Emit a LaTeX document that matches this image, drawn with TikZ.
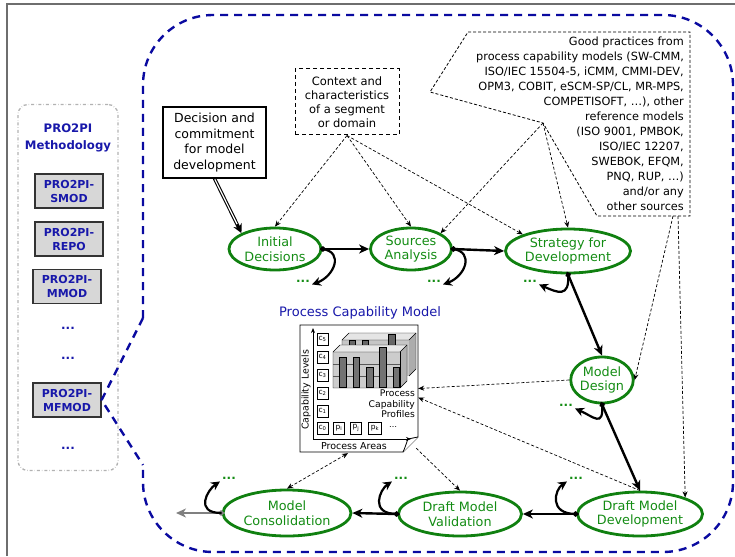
\documentclass[tikz,border=0pt]{standalone}
\usepackage{fontspec}
\setmainfont{DejaVu Sans}
\usetikzlibrary{shapes.geometric,arrows.meta}
\definecolor{ellgreen}{RGB}{16,128,16}
\definecolor{txtgreen}{RGB}{20,140,20}
\definecolor{navy}{RGB}{24,24,170}
\definecolor{regionblue}{RGB}{10,10,160}
\definecolor{boxgray}{RGB}{215,215,215}
\definecolor{framegray}{RGB}{110,110,110}
\begin{document}
\begin{tikzpicture}[x=1pt,y=-1pt,
  phasenode/.style={draw=ellgreen, line width=2.8pt, ellipse, inner sep=0pt, text=txtgreen, align=center, font=\fontsize{12.8}{14.5}\selectfont},
  flow/.style={line width=2.4pt, shorten <=-3pt, {Diamond[length=7pt,width=6pt]}-{Stealth[length=10pt,width=9pt,inset=3pt]}},
  curl/.style={line width=2.2pt, -{Stealth[length=9pt,width=9pt,inset=3pt]}},
  gdots/.style={text=txtgreen, font=\fontsize{12}{12}\bfseries, text height=2.5pt, text depth=0pt, inner sep=2pt},
  bdots/.style={text=navy, font=\fontsize{12}{12}\bfseries, text height=2.5pt, text depth=0pt, inner sep=2pt},
  infl/.style={line width=0.7pt, dash pattern=on 3pt off 2pt, -{Stealth[length=6pt,width=5pt]}},
  inflboth/.style={line width=0.7pt, dash pattern=on 3pt off 2pt, {Stealth[length=6pt,width=5pt]}-{Stealth[length=6pt,width=5pt]}},
  pbox/.style={draw=black!80, fill=boxgray, line width=1.2pt, minimum width=68pt, minimum height=34pt, text=navy, font=\fontsize{11}{14}\bfseries, align=center, inner sep=1pt},
  cbox/.style={draw, line width=0.6pt, minimum width=11pt, minimum height=12pt, inner sep=0pt, font=\fontsize{7.5}{7.5}\selectfont},
  region/.style={draw=regionblue, line width=2.4pt, dash pattern=on 8pt off 6pt}
]
\useasboundingbox (0,0) rectangle (735,556);
% frame
\draw[framegray, line width=1.8pt] (7,556) -- (7,4) -- (735,4);

% left panel
\node[draw=gray!60, dash dot, line width=1.3pt, rounded corners=10pt, minimum width=100pt, minimum height=366pt] (panel) at (68,287.5) {};
\node[text=navy, align=center, font=\fontsize{11.7}{17}\bfseries] (ptitle) at (68,138) {PRO2PI\\Methodology};
\node[pbox] (smod) at (69,191) {PRO2PI-\\SMOD};
\node[pbox] (repo) at (69,239) {PRO2PI-\\REPO};
\node[pbox] (mmod) at (67,286.5) {PRO2PI-\\MMOD};
\node[bdots] (bd1) at (68,328) {...};
\node[bdots] (bd2) at (68,358) {...};
\node[pbox] (mfmod) at (67,400) {PRO2PI-\\MFMOD};
\node[bdots] (bd3) at (68,448) {...};

% blue region
\draw[region] (143,318) [rounded corners=70pt] -- (143,15) -- (733,15) -- (733,552) -- (143,552) -- (143,465);
\draw[region] (143,318) -- (mfmod.east) -- (143,465);

% decision box
\node[draw, line width=1.2pt, minimum width=103pt, minimum height=71pt, align=center, font=\fontsize{12.5}{15.5}\selectfont] (dec) at (214.5,142.5) {Decision and\\commitment\\for model\\development};

% context box
\node[draw, line width=1pt, dash pattern=on 4pt off 3pt, minimum width=104pt, minimum height=66pt, align=center, font=\fontsize{11.5}{14}\selectfont] (ctx) at (347,102) {Context and\\characteristics\\of a segment\\or domain};

% good practices
\coordinate (gpn) at (543,123);
\coordinate (gpb1) at (673,216);
\coordinate (gpb2) at (678,216);
\draw[line width=0.8pt, dash pattern=on 3pt off 2pt] (468,32) -- (690,32) -- (690,216) -- (597,216) -- (gpn) -- (430,92) -- cycle;
\node[align=right, anchor=north east, font=\fontsize{11.3}{15}\selectfont, inner sep=0pt] (gp) at (684,37) {Good practices from\\process capability models (SW-CMM,\\ISO/IEC 15504-5, iCMM, CMMI-DEV,\\OPM3, COBIT, eSCM-SP/CL, MR-MPS,\\COMPETISOFT, …), other\\reference models\\(ISO 9001, PMBOK,\\ISO/IEC 12207,\\SWEBOK, EFQM,\\PNQ, RUP, …)\\and/or any\\other sources};

% process capability model figure
\node[text=navy, font=\fontsize{13}{13}\selectfont] (pcmtitle) at (360,313) {Process Capability Model};
\node[minimum width=118pt, minimum height=127pt, inner sep=0pt] (pcm) at (359,388.5) {};
\draw[line width=0.9pt, fill=white] (300,325) -- (418,325) -- (418,437) -- (403,452) -- (300,452) -- cycle;
\draw[line width=0.8pt, fill=white] (418,437) -- (408,439) .. controls (406,444) and (405,448) .. (403,452);
% back chart
\fill[gray!45] (342,340) rectangle (409,376);
\fill[gray!20] (342,340) -- (349,333) -- (416,333) -- (409,340) -- cycle;
\fill[gray!65] (409,340) -- (416,333) -- (416,369) -- (409,376) -- cycle;
\draw[line width=0.4pt] (342,376) -- (342,340) -- (349,333) -- (416,333) -- (416,369) -- (409,376);
\draw[line width=0.4pt] (342,340) -- (409,340) -- (416,333);
\draw[fill=black!60, line width=0.6pt] (349,340) rectangle (355,345);
\draw[fill=black!60, line width=0.6pt] (362,340) rectangle (368,345);
\draw[fill=black!60, line width=0.8pt] (388,334) rectangle (395,346);
% front chart
\fill[gray!40] (333,352) rectangle (400,388);
\fill[gray!18] (333,352) -- (340,345) -- (407,345) -- (400,352) -- cycle;
\fill[gray!60] (400,352) -- (407,345) -- (407,381) -- (400,388) -- cycle;
\draw[line width=0.4pt] (333,388) -- (333,352) -- (340,345) -- (407,345) -- (407,381) -- (400,388) -- cycle;
\draw[line width=0.4pt] (333,352) -- (400,352) -- (407,345);
\draw[line width=0.4pt] (400,352) -- (400,388);
\draw[gray!70!black, line width=0.4pt] (333,364) -- (400,364) (333,376) -- (400,376);
\draw[fill=black!55, line width=0.9pt] (339,357) rectangle (346,387);
\draw[fill=black!55, line width=0.9pt] (353,357) rectangle (359,387);
\draw[fill=black!55, line width=0.9pt] (366,367) rectangle (373,387);
\draw[fill=black!55, line width=0.9pt] (379,347) rectangle (386,387);
\draw[fill=black!55, line width=0.9pt] (393,367) rectangle (399,387);
% axes
\draw[line width=1pt, -{Stealth[length=5pt,width=4pt]}] (313,439) -- (313,328);
\draw[line width=1pt, -{Stealth[length=5pt,width=4pt]}] (313,439) -- (411,439);
\node[rotate=90, font=\fontsize{9.4}{9.4}\selectfont] (cl) at (306,390) {Capability Levels};
\node[font=\fontsize{9.5}{9.5}\selectfont, inner sep=0pt] (pa) at (354,446.5) {Process Areas};
\node[cbox] (c5) at (322.5,339) {c\textsubscript{5}};
\node[cbox] (c4) at (322.5,357) {c\textsubscript{4}};
\node[cbox] (c3) at (322.5,375) {c\textsubscript{3}};
\node[cbox] (c2) at (322.5,393) {c\textsubscript{2}};
\node[cbox] (c1) at (322.5,411) {c\textsubscript{1}};
\node[cbox] (c0) at (322.5,428) {c\textsubscript{0}};
\node[cbox] (pi) at (339,428) {p\textsubscript{i}};
\node[cbox] (pj) at (356,428) {p\textsubscript{j}};
\node[cbox, minimum width=13pt] (pk) at (375,428) {p\textsubscript{k}};
\node[font=\fontsize{8}{8}\selectfont, inner sep=0.5pt, text height=1.5pt, text depth=0pt] (pmore) at (393,427) {…};
\node[align=right, anchor=north east, font=\fontsize{9.2}{10.2}\selectfont, inner sep=0pt] (prof) at (415,390) {Process\\Capability\\Profiles};

% phases
\node[phasenode, minimum width=92pt, minimum height=42pt] (init) at (275,249) {Initial\\Decisions};
\node[phasenode, minimum width=81pt, minimum height=42pt] (src) at (411,249) {Sources\\Analysis};
\node[phasenode, minimum width=125pt, minimum height=44pt] (strat) at (568,251) {Strategy for\\Development};
\node[phasenode, minimum width=62pt, minimum height=46pt] (design) at (602,380) {Model\\Design};
\node[phasenode, minimum width=125pt, minimum height=44pt] (dmd) at (640,514) {Draft Model\\Development};
\node[phasenode, minimum width=123pt, minimum height=44pt] (dmv) at (460,514) {Draft Model\\Validation};
\node[phasenode, minimum width=128pt, minimum height=46pt] (mc) at (287,513) {Model\\Consolidation};

% green dots
\node[gdots] (d1) at (303,281) {...};
\node[gdots] (d2) at (434,281) {...};
\node[gdots] (d3) at (530,281) {...};
\node[gdots] (d4) at (566,405) {...};
\node[gdots] (d5) at (576,478) {...};
\node[gdots] (d6) at (401,478) {...};
\node[gdots] (d7) at (229,478) {...};

% main flow
\draw[flow] (init.east) -- (src.west);
\draw[flow] (src.east) -- (strat.west);
\draw[flow] (strat.south) -- (design.north);
\draw[flow] (design.south) -- (dmd.north);
\draw[flow] (dmd.west) -- (dmv.east);
\draw[flow] (dmv.west) -- (mc.east);
\coordinate (out) at (176,513);
\draw[flow, black!50] (mc.west) -- (out);

% curls
\draw[curl] (init.east) .. controls +(22,3) and +(22,-8) .. (d1.south east);
\draw[curl] (src.east) .. controls +(22,3) and +(22,-8) .. (d2.south east);
\draw[curl] (strat.south) .. controls +(2,24) and +(18,8) .. (d3.south east);
\draw[curl] (design.south) .. controls +(2,24) and +(18,8) .. (d4.south east);
\draw[curl] (dmd.west) .. controls +(-28,0) and +(-12,8) .. (d5.south west);
\draw[curl] (dmv.west) .. controls +(-28,0) and +(-12,8) .. (d6.south west);
\draw[curl] (mc.west) .. controls +(-28,0) and +(-12,8) .. (d7.south west);

% double arrow from decision
\draw[line width=3.4pt, -{Stealth[length=9pt,width=9pt]}] (dec.south) -- (init.north west);
\draw[line width=1.2pt, white, shorten >=10pt, shorten <=0.7pt] (dec.south) -- (init.north west);

% influence arrows
\draw[infl] (ctx.south) -- (init.north);
\draw[infl] (ctx.south) -- (src.north);
\draw[infl] (ctx.south) -- (strat.north west);
\draw[infl] (gpn) -- (src.north east);
\draw[infl] (gpn) -- (strat.north);
\draw[infl] (gpb1) -- (design.east);
\draw[infl] (gpb2) -- (dmd.north east);
\draw[infl] (design.west) -- (pcm.east);
\draw[infl] (dmd.north) -- ([yshift=-9pt]pcm.east);
\draw[inflboth] (mc.north) -- ([xshift=-11pt,yshift=-1pt]pcm.south);
\draw[infl] ([xshift=-2pt,yshift=4pt]pcm.south east) -- (dmv.north);
\end{tikzpicture}
\end{document}
